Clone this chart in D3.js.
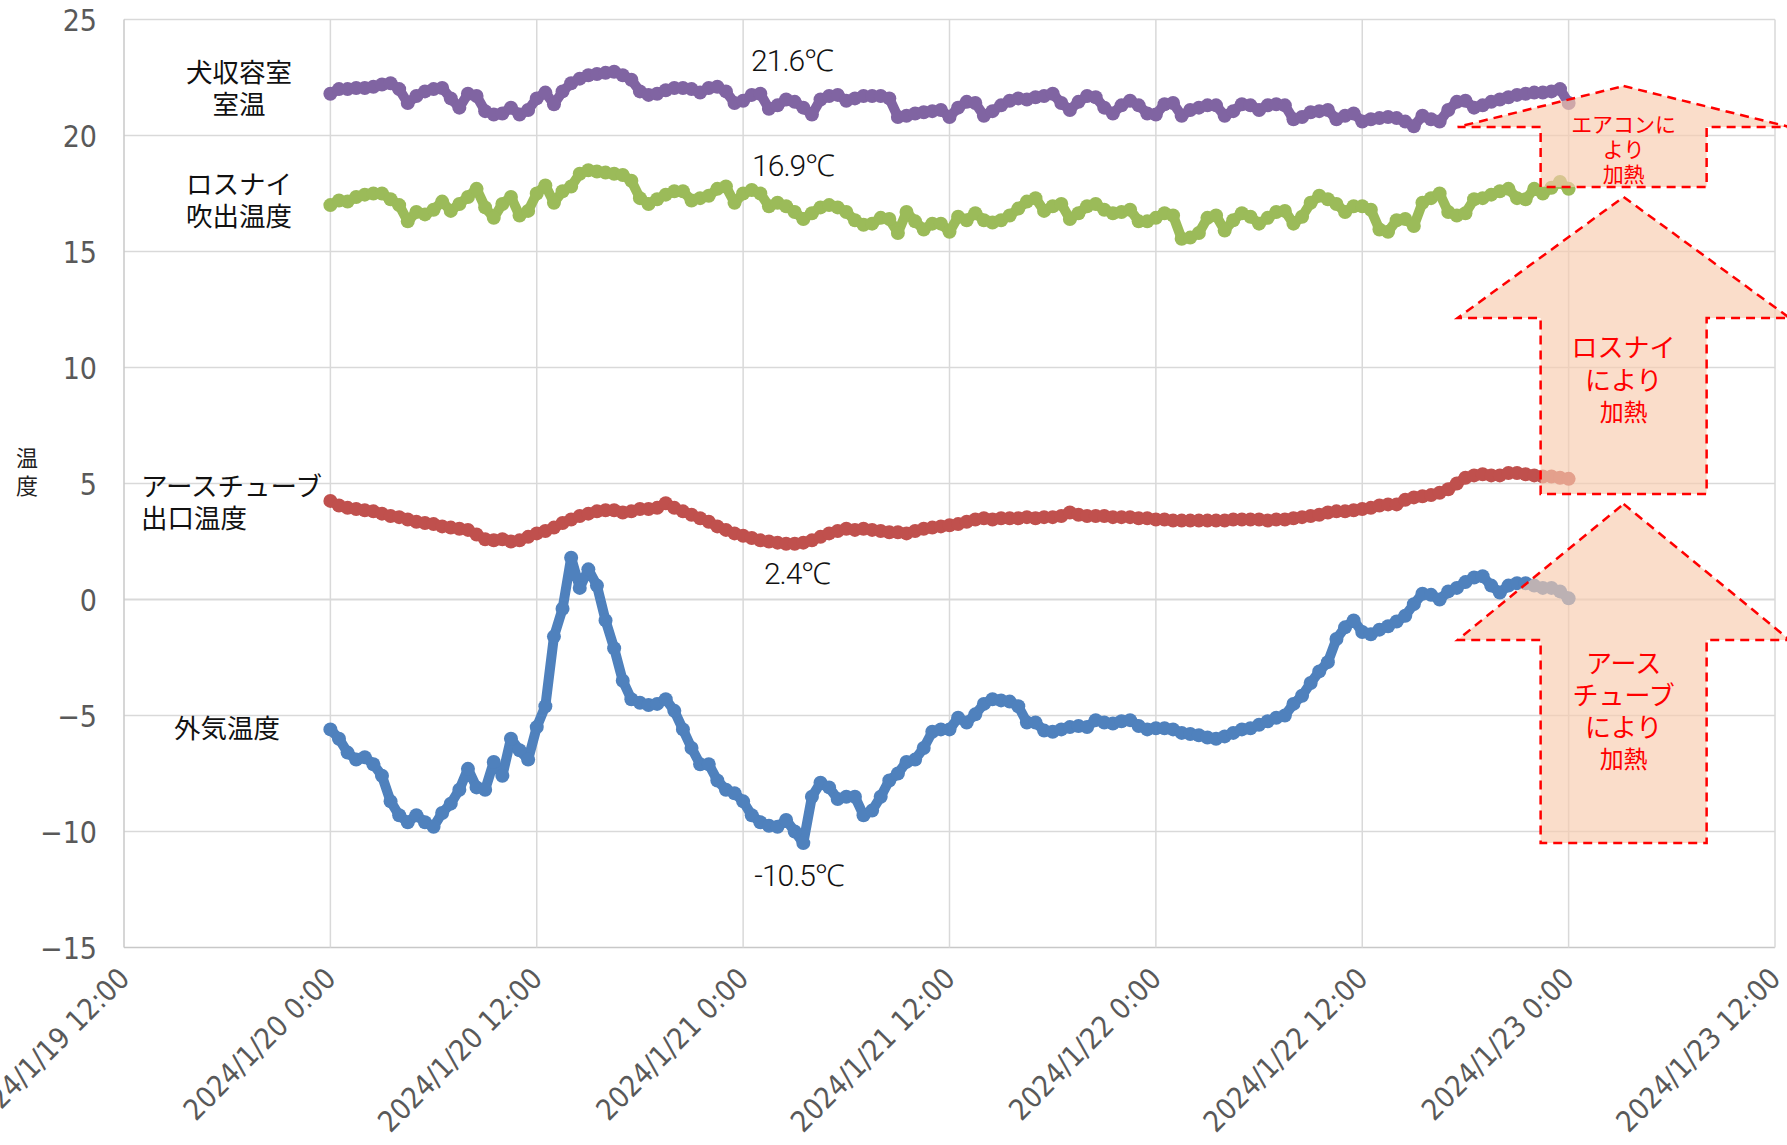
<!DOCTYPE html>
<html lang="ja">
<head>
<meta charset="utf-8">
<script src="https://cdn.jsdelivr.net/npm/d3@7"></script>
<style>
  html, body { margin: 0; padding: 0; background: #fff; }
  svg { display: block; }
  .tick-label { font-family: "Liberation Sans Narrow", "DejaVu Sans Condensed", Roboto, sans-serif; fill: #595959; }
  .jp { font-family: "Noto Sans CJK JP", sans-serif; }
  .val { font-family: Roboto, "Noto Sans", sans-serif; font-weight: 300; fill: #111; }
</style>
</head>
<body>
<svg id="chart" width="1787" height="1145"></svg>
<script>
// Readings every 30 minutes from 2024/1/20 0:00 to 2024/1/23 0:00 (°C)
const startTime = Date.UTC(2024, 0, 20, 0, 0);
const stepMinutes = 30;

// 外気温度
const outdoor = [
  -5.6,-6.0,-6.6,-6.9,-6.8,-7.1,-7.6,-8.7,-9.3,-9.6,-9.3,-9.6,
  -9.8,-9.2,-8.8,-8.2,-7.3,-8.1,-8.2,-7.0,-7.6,-6.0,-6.5,-6.9,
  -5.5,-4.6,-1.6,-0.4,1.8,0.5,1.3,0.6,-0.9,-2.1,-3.5,-4.3,
  -4.45,-4.55,-4.5,-4.3,-4.8,-5.6,-6.4,-7.1,-7.1,-7.8,-8.2,-8.35,
  -8.7,-9.3,-9.6,-9.75,-9.8,-9.5,-10.0,-10.5,-8.5,-7.9,-8.1,-8.6,
  -8.5,-8.5,-9.3,-9.1,-8.5,-7.8,-7.5,-7.0,-6.9,-6.4,-5.7,-5.6,
  -5.6,-5.1,-5.3,-4.95,-4.5,-4.3,-4.35,-4.4,-4.6,-5.3,-5.3,-5.65,
  -5.7,-5.6,-5.5,-5.45,-5.5,-5.2,-5.3,-5.35,-5.25,-5.2,-5.45,-5.6,
  -5.55,-5.55,-5.6,-5.75,-5.8,-5.85,-5.95,-6.0,-5.9,-5.75,-5.6,-5.55,
  -5.4,-5.25,-5.1,-5.0,-4.5,-4.15,-3.6,-3.1,-2.7,-1.7,-1.2,-0.9,
  -1.4,-1.5,-1.3,-1.15,-0.95,-0.7,-0.2,0.25,0.2,0.0,0.35,0.5,
  0.75,0.95,1.0,0.6,0.3,0.6,0.7,0.7,0.6,0.5,0.5,0.35,
  0.05
];

// アースチューブ出口温度
const earthTube = [
  4.25,4.05,3.95,3.9,3.85,3.8,3.7,3.6,3.55,3.45,3.35,3.3,
  3.25,3.15,3.1,3.05,3.0,2.8,2.6,2.55,2.6,2.5,2.55,2.7,
  2.85,2.95,3.1,3.3,3.45,3.6,3.7,3.8,3.85,3.85,3.75,3.8,
  3.9,3.9,3.95,4.15,3.95,3.8,3.65,3.5,3.35,3.15,3.0,2.85,
  2.75,2.65,2.55,2.5,2.45,2.4,2.4,2.45,2.55,2.7,2.85,2.95,
  3.05,3.0,3.05,3.0,2.95,2.9,2.9,2.85,2.95,3.05,3.1,3.15,
  3.2,3.25,3.35,3.45,3.5,3.45,3.5,3.5,3.5,3.55,3.5,3.55,
  3.55,3.6,3.75,3.65,3.6,3.6,3.6,3.55,3.55,3.55,3.5,3.5,
  3.45,3.45,3.4,3.4,3.4,3.4,3.4,3.4,3.4,3.45,3.45,3.45,
  3.45,3.4,3.45,3.45,3.5,3.55,3.6,3.65,3.75,3.8,3.8,3.85,
  3.9,3.95,4.05,4.1,4.1,4.3,4.4,4.45,4.5,4.6,4.75,5.0,
  5.25,5.35,5.4,5.35,5.35,5.45,5.45,5.4,5.35,5.3,5.3,5.25,
  5.2
];

// ロスナイ吹出温度
const lossnay = [
  17.0,17.2,17.15,17.35,17.45,17.5,17.5,17.25,17.0,16.3,16.7,16.6,
  16.8,17.15,16.75,17.05,17.35,17.7,16.9,16.45,17.05,17.35,16.55,16.75,
  17.5,17.85,17.1,17.6,17.8,18.35,18.5,18.45,18.4,18.35,18.3,18.05,
  17.3,17.05,17.25,17.45,17.6,17.6,17.2,17.3,17.4,17.7,17.8,17.1,
  17.5,17.65,17.5,16.95,17.1,16.95,16.7,16.4,16.65,16.9,17.0,16.9,
  16.7,16.35,16.15,16.2,16.45,16.4,15.8,16.7,16.3,15.95,16.2,16.2,
  15.85,16.5,16.35,16.65,16.35,16.25,16.35,16.55,16.85,17.15,17.3,16.75,
  16.95,17.05,16.4,16.65,16.95,17.05,16.8,16.65,16.7,16.8,16.3,16.3,
  16.45,16.65,16.55,15.55,15.6,15.8,16.45,16.55,15.9,16.35,16.65,16.5,
  16.2,16.45,16.7,16.75,16.2,16.5,17.1,17.4,17.25,17.05,16.7,16.95,
  16.95,16.8,15.95,15.85,16.35,16.4,16.1,17.1,17.3,17.5,16.7,16.55,
  16.65,17.25,17.3,17.45,17.6,17.7,17.3,17.25,17.7,17.5,17.75,18.0,
  17.7
];

// 犬収容室室温
const kennel = [
  21.8,22.0,22.0,22.05,22.05,22.1,22.2,22.25,22.0,21.4,21.7,21.9,
  22.0,22.05,21.6,21.2,21.8,21.7,21.05,20.9,20.95,21.2,20.9,21.1,
  21.6,21.85,21.35,21.9,22.25,22.45,22.6,22.65,22.7,22.75,22.6,22.4,
  21.9,21.75,21.8,21.95,22.05,22.05,22.0,21.85,22.05,22.1,21.9,21.4,
  21.5,21.75,21.8,21.15,21.3,21.55,21.45,21.2,20.9,21.55,21.7,21.75,
  21.5,21.6,21.7,21.7,21.7,21.6,20.8,20.85,20.95,21.0,21.05,21.1,
  20.8,21.2,21.45,21.4,20.85,21.05,21.3,21.5,21.6,21.55,21.65,21.7,
  21.8,21.4,21.1,21.45,21.7,21.65,21.2,20.95,21.3,21.5,21.3,20.95,
  20.9,21.35,21.4,20.85,21.1,21.2,21.3,21.3,20.85,21.05,21.35,21.3,
  21.1,21.3,21.35,21.3,20.7,20.8,21.0,21.05,21.1,20.7,20.85,20.95,
  20.6,20.7,20.75,20.8,20.75,20.6,20.4,20.85,20.7,20.6,21.1,21.45,
  21.5,21.2,21.3,21.45,21.55,21.65,21.75,21.8,21.85,21.85,21.9,22.0,
  21.4
];

const seriesList = [
  { name: "外気温度", values: outdoor, color: "#4F81BD" },
  { name: "アースチューブ出口温度", values: earthTube, color: "#C0504D" },
  { name: "ロスナイ吹出温度", values: lossnay, color: "#9BBB59" },
  { name: "犬収容室室温", values: kennel, color: "#8064A2" }
];

// Axis settings
const yTicks = [-15, -10, -5, 0, 5, 10, 15, 20, 25];
const xDomain = [Date.UTC(2024, 0, 19, 12), Date.UTC(2024, 0, 23, 12)];

// Text labels beside the series and on the extremes
const seriesLabels = [
  { lines: ["犬収容室", "室温"], x: 239, y: 70, anchor: "middle" },
  { lines: ["ロスナイ", "吹出温度"], x: 239, y: 182, anchor: "middle" },
  { lines: ["アースチューブ", "出口温度"], x: 141, y: 484, anchor: "start" },
  { lines: ["外気温度"], x: 227, y: 726, anchor: "middle" }
];
const valueLabels = [
  { text: "21.6℃", x: 792, y: 60 },
  { text: "16.9℃", x: 793, y: 165 },
  { text: "2.4℃", x: 797, y: 573 },
  { text: "-10.5℃", x: 799, y: 875 }
];

// Heating arrows (bottom-up): tip, head base and shaft bottom in px
const arrows = [
  { tip: 86, base: 127, bottom: 187, lines: ["エアコンに", "より", "加熱"], sizes: [21, 21, 21], ys: [123, 148, 173] },
  { tip: 197, base: 318, bottom: 494, lines: ["ロスナイ", "により", "加熱"], sizes: [26, 26, 24], ys: [345, 378, 410] },
  { tip: 504, base: 640, bottom: 843, lines: ["アース", "チューブ", "により", "加熱"], sizes: [26, 26, 26, 24], ys: [661, 693, 725, 757] }
];

const W = 1787, H = 1145;
const margin = { left: 124, right: 12, top: 19.5, bottom: 197.5 };
const innerW = W - margin.left - margin.right;
const innerH = H - margin.top - margin.bottom;

const svg = d3.select("#chart");
svg.append("rect").attr("width", W).attr("height", H).attr("fill", "#fff");

const x = d3.scaleUtc().domain(xDomain).range([margin.left, margin.left + innerW]);
const y = d3.scaleLinear().domain([-15, 25]).range([margin.top + innerH, margin.top]);

// Gridlines
const grid = svg.append("g");
grid.selectAll("line.h").data(yTicks).join("line")
  .attr("x1", margin.left).attr("x2", margin.left + innerW)
  .attr("y1", d => y(d)).attr("y2", d => y(d))
  .attr("stroke", d => d === -15 ? "#c8c8c8" : "#d9d9d9")
  .attr("stroke-width", d => d === 0 ? 2 : 1.5);
const xTickValues = d3.utcHour.every(12).range(xDomain[0], xDomain[1] + 1);
grid.selectAll("line.v").data(xTickValues).join("line")
  .attr("x1", d => x(d)).attr("x2", d => x(d))
  .attr("y1", margin.top).attr("y2", margin.top + innerH)
  .attr("stroke", (d, i) => i === 0 ? "#c8c8c8" : "#d9d9d9")
  .attr("stroke-width", 1.5);

// Y axis
const yAxis = d3.axisLeft(y).tickValues(yTicks).tickSize(0).tickPadding(27)
  .tickFormat(d => d < 0 ? "\u2212" + Math.abs(d) : String(d));
const gy = svg.append("g").attr("transform", `translate(${margin.left},0)`).call(yAxis);
gy.select(".domain").remove();
gy.selectAll("text").attr("class", "tick-label").attr("font-size", 30).attr("dy", "0.35em");

// X axis with rotated date labels
const fmt = d3.utcFormat("%Y/%-m/%-d %-H:%M");
const xAxis = d3.axisBottom(x).tickValues(xTickValues).tickSize(0).tickFormat(fmt);
const gx = svg.append("g").attr("transform", `translate(0,${margin.top + innerH})`).call(xAxis);
gx.select(".domain").remove();
gx.selectAll("text")
  .attr("class", "tick-label")
  .attr("font-size", 29)
  .attr("text-anchor", "end")
  .attr("dy", null)
  .attr("y", 0)
  .attr("transform", "translate(1,27) rotate(-45)")
  .attr("dominant-baseline", "middle");

// Axis title (vertical)
["温", "度"].forEach((c, i) => {
  svg.append("text").attr("class", "jp").attr("font-size", 22)
    .attr("fill", "#222").attr("text-anchor", "middle")
    .attr("x", 27).attr("y", 466 + i * 28).text(c);
});

// Series: line + circle markers
const timeOf = i => startTime + i * stepMinutes * 60000;
const line = d3.line().x((d, i) => x(timeOf(i))).y(d => y(d));
seriesList.forEach(s => {
  const g = svg.append("g");
  g.append("path").datum(s.values).attr("d", line)
    .attr("fill", "none").attr("stroke", s.color).attr("stroke-width", 10)
    .attr("stroke-linejoin", "round").attr("stroke-linecap", "round");
  g.selectAll("circle").data(s.values).join("circle")
    .attr("cx", (d, i) => x(timeOf(i))).attr("cy", d => y(d))
    .attr("r", 7).attr("fill", s.color);
});

// Series name labels (one text element per line)
seriesLabels.forEach(l => {
  l.lines.forEach((ln, i) => {
    svg.append("text").attr("class", "jp").attr("font-size", 26.5)
      .attr("fill", "#111").attr("text-anchor", l.anchor)
      .attr("x", l.x).attr("y", l.y + i * 32)
      .attr("dominant-baseline", "central").text(ln);
  });
});

// Extreme value labels
valueLabels.forEach(v => {
  svg.append("text").attr("class", "val").attr("font-size", 30)
    .attr("letter-spacing", -1)
    .attr("x", v.x).attr("y", v.y).attr("text-anchor", "middle")
    .attr("dominant-baseline", "central").text(v.text);
});

// Heating arrows on top
const ax = x(Date.UTC(2024, 0, 23, 0)) + 55;
const shaftHalf = 83, headHalf = 166;
arrows.forEach(a => {
  const pts = [
    [ax, a.tip], [ax + headHalf, a.base], [ax + shaftHalf, a.base],
    [ax + shaftHalf, a.bottom], [ax - shaftHalf, a.bottom],
    [ax - shaftHalf, a.base], [ax - headHalf, a.base]
  ];
  svg.append("path").attr("d", "M" + pts.join("L") + "Z")
    .attr("fill", "#F8CBAD").attr("fill-opacity", 0.65)
    .attr("stroke", "#FF0000").attr("stroke-width", 2.5)
    .attr("stroke-dasharray", "9,6").attr("stroke-linejoin", "miter");
  a.lines.forEach((ln, i) => {
    svg.append("text").attr("class", "jp").attr("fill", "#FF0000")
      .attr("text-anchor", "middle")
      .attr("x", ax).attr("y", a.ys[i]).attr("font-size", a.sizes[i])
      .attr("dominant-baseline", "central").text(ln);
  });
});
</script>
</body>
</html>
